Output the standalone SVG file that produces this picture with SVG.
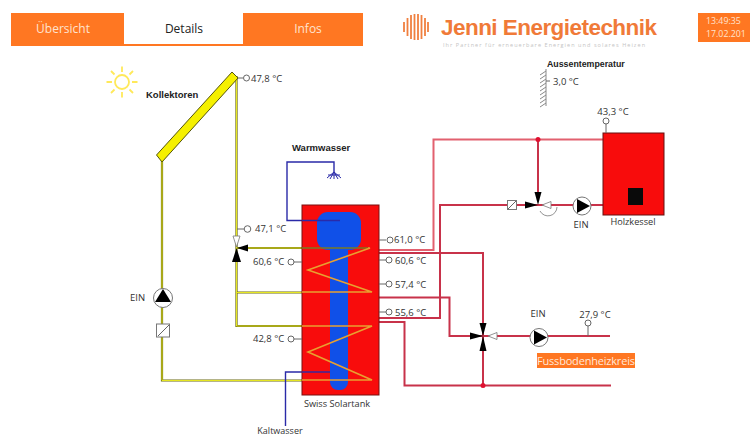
<svg xmlns="http://www.w3.org/2000/svg" width="750" height="436" viewBox="0 0 750 436">
<style>
text{font-family:"Open Sans","Liberation Sans",sans-serif;fill:#333;font-size:9.5px}
.b{font-family:"Liberation Sans",sans-serif;font-weight:bold;fill:#222;font-size:9.5px}
.m{text-anchor:middle}
.pipe{fill:none;stroke-linejoin:miter}
.red{stroke:#c8324a;stroke-width:2}
.ltred{stroke:#e2606f;stroke-width:2}
.yel{stroke:#6a6a12;stroke-width:2.2}
.yin{stroke:#e6e620;stroke-width:1}
.blue{stroke:#2a2aa8;stroke-width:1.4}
.coil{stroke:#e8a030;stroke-width:1.6}
.sen{fill:#fff;stroke:#666;stroke-width:1}
.sl{stroke:#666;stroke-width:1;fill:none}
.pump{fill:#fff;stroke:#777;stroke-width:1}
.chk{fill:#fff;stroke:#777;stroke-width:1}
.wv{fill:#fff;stroke:#777;stroke-width:.8}
</style>
<defs>
<path id="y1" d="M162 160V380.500H302"/>
<path id="y2" d="M236.500 76V326H302"/>
<path id="y3" d="M237 248H302"/>
<path id="y4" d="M237 292.500H302"/>
</defs>
<rect width="750" height="436" fill="#fff"/>
<g id="nav">
<rect x="11" y="13" width="352" height="33" fill="#ff7722"/>
<rect x="124" y="13" width="119" height="31" fill="#fff"/>
<text x="63" y="33" class="m" style="font-size:12px;fill:#ffe3cf">Übersicht</text>
<text x="184" y="33" class="m" style="font-size:12px;fill:#222">Details</text>
<text x="308" y="33" class="m" style="font-size:12px;fill:#ffe3cf">Infos</text>
</g>
<g id="logo">
<g stroke="#f08040" stroke-width="1.8">
<path d="M404 22V32M407.500 18V36M411 15V39M414.500 14V40M418 14V40M421.500 15V39M425 18V36M428 22V32"/>
</g>
<text x="441" y="35" style="font-family:'Liberation Sans',sans-serif;font-weight:bold;font-size:22.500px;fill:#f07a38" textLength="216">Jenni Energietechnik</text>
<text x="443" y="47" style="font-size:5.500px;fill:#c4c4c4" textLength="202">Ihr Partner für erneuerbare Energien und solares Heizen</text>
</g>
<g id="clock">
<rect x="698" y="13" width="52" height="29" fill="#ff7722"/>
<text x="706" y="24" style="font-size:8.800px;fill:#ffe3cf">13:49:35</text>
<text x="706" y="37" style="font-size:8.800px;fill:#ffe3cf">17.02.201</text>
</g>
<g id="connectors">
<path class="pipe ltred" d="M379 250H433.500V139.500H603"/>
<path class="pipe red" d="M538 139.500V192"/>
<path class="pipe red" d="M379 253H483V385.500"/>
<path class="pipe red" d="M379 297.500H449.500V336H610"/>
<path class="pipe red" d="M379 318H440V205H603"/>
<path class="pipe red" d="M379 322H404.500V385.500H611"/>
<g class="pipe yel"><use href="#y1"/><use href="#y2"/><use href="#y3"/><use href="#y4"/></g>
<g class="pipe yin"><use href="#y1"/><use href="#y2"/><use href="#y3"/><use href="#y4"/></g>
<path class="pipe blue" d="M302 220.500H287V162H334V172"/>
<path class="pipe blue" d="M330 372H285.500V426"/>
</g>
<g id="tank">
<rect x="302" y="205" width="77" height="190" fill="#f80c0c" stroke="#7a1010" stroke-width="1"/>
<rect x="317" y="212" width="44" height="38" rx="11" fill="#1050e8"/>
<rect x="330" y="240" width="18" height="150" rx="8" fill="#1050e8"/>
<path class="pipe" stroke="#7a7a20" stroke-width="1.600" d="M302 248H368"/>
<path class="pipe coil" d="M368 248H370L308 270L372 292H302"/>
<path class="pipe coil" d="M302 326H372L308 352L372 380H302"/>
<path class="pipe blue" d="M302 220.500H340"/>
<path class="pipe blue" d="M302 372H330"/>
<text x="337" y="407" class="m" style="font-size:9.200px">Swiss Solartank</text>
</g>
<g id="collector">
<polygon points="156.500,155 162,162 238,78 232,72" fill="#f5f000" stroke="#55550a" stroke-width="1"/>
<text x="146" y="98" class="b">Kollektoren</text>
<path class="sl" d="M238 78H243"/>
<circle class="sen" cx="246.500" cy="78" r="3"/>
<text x="251" y="81.500">47,8 °C</text>
</g>
<g id="sun" fill="none" stroke="#ffe95a" stroke-width="1.800">
<circle cx="122" cy="82" r="7"/>
<path d="M122 66.500V72M122 92V97.500M106.500 82H112M132 82H137.500M111 71L114.500 74.500M129.500 89.500L133 93M133 71L129.500 74.500M114.500 89.500L111 93"/>
</g>
<g id="warmwasser">
<text x="292" y="151" class="b">Warmwasser</text>
<path d="M334 172L327 178M334 172L330 179M334 172V179M334 172L338 179M334 172L341 178M328 175H340" stroke="#2a2aa8" stroke-width="1" fill="none"/>
</g>
<g id="outside">
<text x="547" y="67" class="b" style="font-size:8.800px">Aussentemperatur</text>
<path d="M546 69V106" stroke="#888" stroke-width="1"/>
<path d="M546 71L540 75M546 75L540 79M546 79L540 83M546 83L540 87M546 87L540 91M546 91L540 95M546 95L540 99M546 99L540 103M546 103L540 107" stroke="#888" stroke-width="1"/>
<path class="sl" d="M546 81H550"/>
<text x="553" y="85">3,0 °C</text>
</g>
<g id="boiler">
<rect x="603" y="133" width="61" height="82" fill="#f80c0c" stroke="#661010" stroke-width="1"/>
<rect x="628" y="188" width="15" height="17" fill="#0a0a0a"/>
<path class="sl" d="M606 124V133"/>
<circle class="sen" cx="606" cy="121" r="3"/>
<text x="613" y="115" class="m">43,3 °C</text>
<text x="633" y="225" class="m" style="font-size:9.200px">Holzkessel</text>
</g>
<g id="dots" fill="#e01030">
<circle cx="538" cy="139.500" r="2.500"/>
<circle cx="483" cy="385.500" r="2.500"/>
</g>
<g id="solar-pump">
<circle class="pump" cx="163" cy="298" r="9.500"/>
<polygon points="163,289 155,302 171,302" fill="#000"/>
<text x="130" y="301">EIN</text>
<rect class="chk" x="156.500" y="324" width="13" height="13"/>
<path class="sl" d="M158 336L169 325"/>
</g>
<g id="solar-valve">
<polygon class="wv" points="233,236 240,236 236.500,247"/>
<polygon points="237,248 248,244.500 248,251.500" fill="#000"/>
<polygon points="236.500,248 232,262 241,262" fill="#000"/>
<path class="sl" d="M237 229H244"/>
<circle class="sen" cx="247.500" cy="229" r="3.300"/>
<text x="255" y="232">47,1 °C</text>
</g>
<g id="tank-sensors">
<path class="sl" d="M294 262H302M294 339H302M379 240H386M379 260H386M379 284H386M379 312H386"/>
<circle class="sen" cx="291" cy="262" r="3"/><text x="253" y="265">60,6 °C</text>
<circle class="sen" cx="291" cy="339" r="3"/><text x="253" y="342">42,8 °C</text>
<circle class="sen" cx="390" cy="240" r="3"/><text x="394" y="243">61,0 °C</text>
<circle class="sen" cx="389" cy="260" r="3"/><text x="395" y="264">60,6 °C</text>
<circle class="sen" cx="389" cy="284" r="3"/><text x="395" y="288">57,4 °C</text>
<circle class="sen" cx="389" cy="312" r="3"/><text x="395" y="316">55,6 °C</text>
</g>
<g id="boiler-mixer">
<rect class="chk" x="507.500" y="200.500" width="9" height="9"/>
<path class="sl" d="M508 209L516 201"/>
<path d="M540 211A9 9 0 0 0 557 207" fill="none" stroke="#777" stroke-width=".8"/>
<polygon points="538,205 534.500,192 541.500,192" fill="#000"/>
<polygon points="538,205 525,201.500 525,208.500" fill="#000"/>
<polygon class="wv" points="542,205 551,201.500 551,208.500"/>
<circle class="pump" cx="582" cy="206" r="9"/>
<polygon points="590,206 577,199 577,213" fill="#000"/>
<text x="581" y="228" class="m">EIN</text>
</g>
<g id="floor-circuit">
<polygon points="483,336 479.500,323 486.500,323" fill="#000"/>
<polygon points="483,336 479.500,351 486.500,351" fill="#000"/>
<polygon points="483,336 470,332.500 470,339.500" fill="#000"/>
<polygon class="wv" points="488,336 497,332.500 497,339.500"/>
<circle class="pump" cx="539" cy="337.500" r="9"/>
<polygon points="547,337.500 534,330.500 534,344.500" fill="#000"/>
<text x="538" y="317" class="m">EIN</text>
<path class="sl" d="M588 326V336"/>
<circle class="sen" cx="588" cy="323" r="3"/>
<text x="595" y="318" class="m">27,9 °C</text>
<rect x="537" y="353" width="98" height="15" fill="#ff7722"/>
<text x="537" y="365" style="font-size:11px;fill:#ffe8d8" textLength="98">Fussbodenheizkreis</text>
</g>
<g id="kaltwasser">
<text x="280" y="434" class="m" style="font-size:9px">Kaltwasser</text>
</g>
</svg>
